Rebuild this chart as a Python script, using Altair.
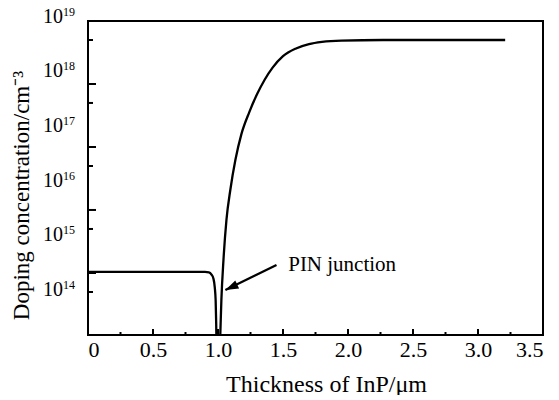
import altair as alt
import pandas as pd

# ---- data ----
thickness = [0, 0.5, 0.9, 0.93, 0.95, 0.965, 0.975, 0.982, 0.986, 0.99, 1.0, 1.012,
             1.018, 1.026, 1.042, 1.065, 1.095, 1.134, 1.18, 1.24, 1.30, 1.36, 1.42,
             1.50, 1.60, 1.70, 1.80, 1.95, 2.27, 2.6, 3.209]
doping = [2.12e14, 2.12e14, 2.12e14, 2.09e14, 1.9e14, 1.6e14, 1.12e14, 6.3e13, 2.5e13,
          6e12, 3e12, 6e12, 1.6e13, 6.5e13, 3.5e14, 1.9e15, 6.8e15, 2.4e16, 7.1e16,
          1.78e17, 3.8e17, 7.1e17, 1.17e18, 1.9e18, 2.63e18, 3.16e18, 3.47e18,
          3.67e18, 3.76e18, 3.76e18, 3.76e18]

x_major = [0, 0.5, 1.0, 1.5, 2.0, 2.5, 3.0, 3.5]
x_minor = [0.25, 0.75, 1.25, 1.75, 2.25, 2.75, 3.25]
y_major_exp = [14.308, 15.462, 16.615, 17.769]
y_minor_exp = [13.960, 15.114, 16.267, 17.422, 18.575]
y_label_exp = [14, 15, 16, 17, 18, 19]
y_domain_exp = [13.172, 18.923]

annot_text = "PIN junction"
annot_text_pos = (1.54, 2.8e14)
arrow_start = (1.45, 2.84e14)
arrow_tip = (1.057, 9.9e13)

FONT = "Liberation Serif"

curve = pd.DataFrame({"x": thickness, "c": doping})
xs = alt.Scale(domain=[0, 3.5], nice=False, zero=False)
ys = alt.Scale(type="log", domain=[10 ** y_domain_exp[0], 10 ** y_domain_exp[1]], nice=False)

line = alt.Chart(curve).mark_line(color="black", strokeWidth=2.3, clip=True,
                                  interpolate="monotone").encode(
    x=alt.X("x:Q", scale=xs, axis=alt.Axis(
        values=x_major, labelExpr="datum.value == 0 ? '0' : format(datum.value, '.1f')",
        labelFont=FONT, labelFontSize=22, labelColor="black", labelPadding=4,
        title="Thickness of InP/μm", titleFont=FONT, titleFontSize=24, titleFontWeight="normal",
        titleColor="black", titleX=238, titleY=49, titleBaseline="middle")),
    y=alt.Y("c:Q", scale=ys, axis=alt.Axis(
        labels=False, values=[10 ** e for e in y_label_exp],
        title="Doping concentration/cm⁻³", titleFont=FONT, titleFontSize=23,
        titleFontWeight="normal", titleColor="black", titleX=-67, titleY=174,
        titleBaseline="middle", titleAngle=-90)),
)

xmaj = alt.Chart(pd.DataFrame({"x": x_major[1:-1]})).mark_rule(color="black", strokeWidth=2).encode(
    x=alt.X("x:Q", scale=xs), y=alt.value(314), y2=alt.value(308))
xmin = alt.Chart(pd.DataFrame({"x": x_minor})).mark_rule(color="black", strokeWidth=2).encode(
    x=alt.X("x:Q", scale=xs), y=alt.value(314), y2=alt.value(311))
ymaj = alt.Chart(pd.DataFrame({"c": [10 ** e for e in y_major_exp]})).mark_rule(color="black", strokeWidth=2).encode(
    y=alt.Y("c:Q", scale=ys), x=alt.value(0), x2=alt.value(8))
ymin = alt.Chart(pd.DataFrame({"c": [10 ** e for e in y_minor_exp]})).mark_rule(color="black", strokeWidth=2).encode(
    y=alt.Y("c:Q", scale=ys), x=alt.value(0), x2=alt.value(5))

lab_df = pd.DataFrame({"c": [10 ** e for e in y_label_exp], "base": ["10"] * len(y_label_exp),
                       "sup": [str(e) for e in y_label_exp]})
ylab_base = alt.Chart(lab_df).mark_text(align="right", baseline="middle", font=FONT,
                                        fontSize=20, color="black").encode(
    y=alt.Y("c:Q", scale=ys), x=alt.value(-25), text="base:N")
ylab_sup = alt.Chart(lab_df).mark_text(align="left", baseline="middle", font=FONT,
                                       fontSize=12, color="black", dy=-5).encode(
    y=alt.Y("c:Q", scale=ys), x=alt.value(-25), text="sup:N")

arrow_df = pd.DataFrame({"x": [arrow_start[0]], "c": [arrow_start[1]],
                         "x2": [arrow_tip[0]], "c2": [arrow_tip[1]]})
arrow_line = alt.Chart(arrow_df).mark_rule(color="black", strokeWidth=2.3).encode(
    x=alt.X("x:Q", scale=xs), y=alt.Y("c:Q", scale=ys), x2="x2:Q", y2="c2:Q")
head_df = pd.DataFrame({"x": [arrow_tip[0]], "c": [arrow_tip[1]]})
arrow_head = alt.Chart(head_df).mark_point(
    shape="M0,0L-0.45,1.3L0.45,1.3Z", filled=True, color="black", size=400, angle=245, opacity=1).encode(
    x=alt.X("x:Q", scale=xs), y=alt.Y("c:Q", scale=ys))
text_df = pd.DataFrame({"x": [annot_text_pos[0]], "c": [annot_text_pos[1]], "t": [annot_text]})
annot = alt.Chart(text_df).mark_text(align="left", baseline="middle", font=FONT, fontSize=21,
                                     color="black").encode(
    x=alt.X("x:Q", scale=xs), y=alt.Y("c:Q", scale=ys), text="t:N")

chart = alt.layer(line, xmaj, xmin, ymaj, ymin, ylab_base, ylab_sup, arrow_line, arrow_head, annot).properties(
    width=455, height=314, autosize="none",
    padding={"left": 80, "top": 13, "right": 8, "bottom": 60},
    background="white",
).configure_view(stroke="black", strokeWidth=2).configure_axis(
    grid=False, ticks=False, domain=False)

chart.save("out.html", embed_options={"renderer": "svg", "actions": False})
